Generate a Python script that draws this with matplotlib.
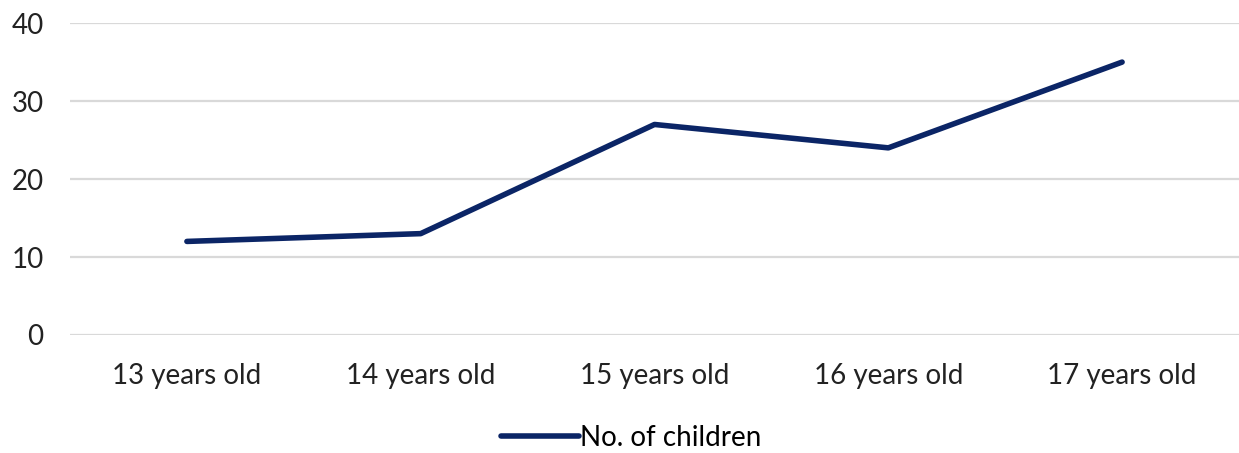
import matplotlib.pyplot as plt

plt.rcParams['font.family'] = ['Lato', 'DejaVu Sans']

ages = ['13 years old', '14 years old', '15 years old', '16 years old', '17 years old']
children = [12, 13, 27, 24, 35]

fig = plt.figure(figsize=(12.39, 4.53), dpi=100)
ax = fig.add_axes([0.0565, 0.2605, 0.9435, 0.6885])

x = range(len(ages))
ax.plot(x, children, color='#0b2566', lw=4, solid_capstyle='round',
        solid_joinstyle='round', label='No. of children')

ax.set_xlim(-0.5, len(ages) - 0.5)
ax.set_ylim(0, 40)
ax.set_yticks([0, 10, 20, 30, 40])
ax.set_xticks(list(x))
ax.set_xticklabels(ages)
ax.grid(axis='y', color='#d9d9d9', lw=1.6)
ax.set_axisbelow(True)
for s in ax.spines.values():
    s.set_visible(False)
ax.tick_params(length=0, labelsize=20, labelcolor='#222222')
ax.tick_params(axis='y', pad=19)
ax.tick_params(axis='x', pad=20)

ax.legend(loc='center', bbox_to_anchor=(0.48, -0.33), frameon=False,
          fontsize=20, handlelength=2.8, handletextpad=0.05)

fig.savefig('out.png', dpi=100)
